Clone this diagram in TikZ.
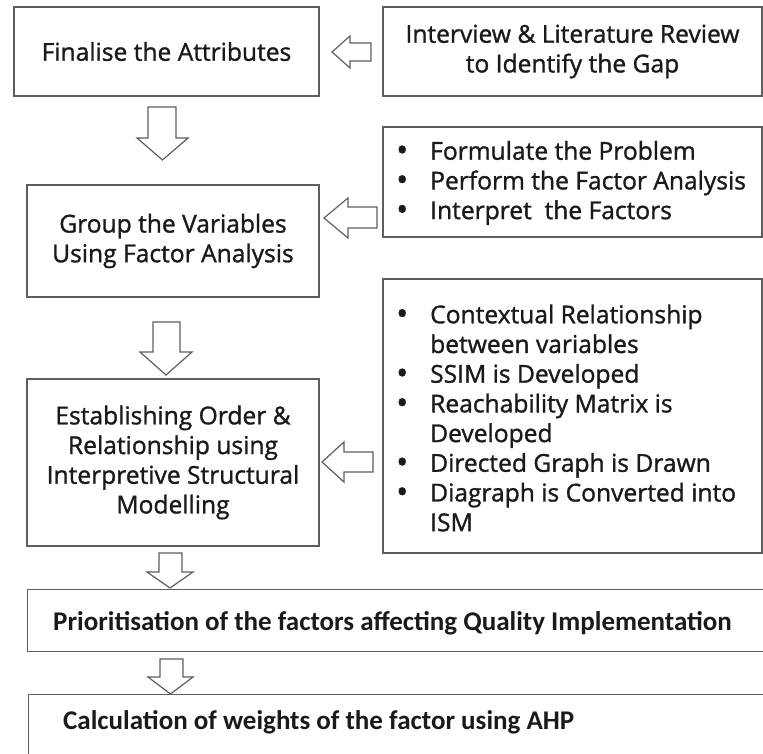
\documentclass[tikz,border=0pt]{standalone}
\usepackage{fontspec}
\setmainfont{Open Sans}[RawFeature={embolden=1.2}]
\newfontfamily\calibfont{Carlito}
\definecolor{edge}{HTML}{5E5E5E}
\definecolor{ink}{HTML}{1A1A1A}
\begin{document}
\begin{tikzpicture}[x=1pt,y=-1pt,
  box/.style={draw=edge,line width=1.4pt,rectangle,inner sep=0pt,text=ink,align=center,
    font=\fontsize{24.6}{29.7}\selectfont},
  listtxt/.style={text=ink,align=left,inner sep=0pt,font=\fontsize{24.6}{29.7}\selectfont},
  boldtxt/.style={text=ink,inner sep=0pt,font=\calibfont\bfseries\fontsize{27}{30}\selectfont},
  blk/.style={draw=edge,line width=1.2pt,fill=white,line join=miter}]
\useasboundingbox (0,0) rectangle (763,754);
\clip (0,0) rectangle (763,754);
\fill[white] (0,0) rectangle (763,754);
\newcommand\bul{\makebox[33pt][l]{\hspace*{-1pt}\raisebox{-1.5pt}{\smash{\fontsize{32}{0}\selectfont•}}}}
\newcommand\ind{\hspace*{33pt}}

% boxes
\node[box,minimum width=305pt,minimum height=89pt] (b1) at (166.5,51.5) {Finalise the Attributes};
\node[box,minimum width=379pt,minimum height=89pt] (b2) at (572.5,51.5) {Interview \& Literature Review\\to Identify the Gap};
\node[box,minimum width=292pt,minimum height=112pt] (b3) at (173,241) {Group the Variables\\Using Factor Analysis};
\node[box,minimum width=379pt,minimum height=110pt] (b4) at (572.5,182) {};
\node[listtxt,anchor=west] (t4) at (397,183) {\bul Formulate the Problem\\\bul Perform the Factor Analysis\\\bul Interpret\ \ the Factors};
\node[box,minimum width=292pt,minimum height=167pt] (b5) at (173,462.5) {Establishing Order \&\\Relationship using\\Interpretive Structural\\Modelling};
\node[box,minimum width=379pt,minimum height=274pt] (b6) at (572.5,416) {};
\node[listtxt,anchor=west] (t6) at (397,418) {\bul Contextual Relationship\\\ind between variables\\\bul SSIM is Developed\\\bul Reachability Matrix is\\\ind Developed\\\bul Directed Graph is Drawn\\\bul Diagraph is Converted into\\\ind ISM};
\node[box,minimum width=773pt,minimum height=62pt,anchor=north west] (b7) at (27,589) {};
\node[boldtxt,anchor=west] (t7) at (53,623) {Prioritisation of the factors affecting Quality Implementation};
\node[box,minimum width=772pt,minimum height=106pt,anchor=north west] (b8) at (28,694) {};
\node[boldtxt,anchor=west] (t8) at (63,722) {Calculation of weights of the factor using AHP};

% block arrows: left-pointing
\draw[blk] (371,43) -- (350,43) -- (350,36) -- (332,52) -- (350,68) -- (350,61) -- (371,61) -- cycle;
\draw[blk] (377,207) -- (348,207) -- (348,198) -- (324,218) -- (348,238) -- (348,228) -- (377,228) -- cycle;
\draw[blk] (373,452) -- (344,452) -- (344,442) -- (322,462) -- (344,482) -- (344,472) -- (373,472) -- cycle;
% block arrows: down-pointing
\draw[blk] (148,107) -- (176,107) -- (176,138) -- (188,138) -- (162.5,160) -- (137,138) -- (148,138) -- cycle;
\draw[blk] (153,322) -- (180,322) -- (180,352) -- (192,352) -- (166,375) -- (140,352) -- (153,352) -- cycle;
\draw[blk] (159,553) -- (182,553) -- (182,572) -- (193,572) -- (170,588) -- (147,572) -- (159,572) -- cycle;
\draw[blk] (160,659) -- (183,659) -- (183,677) -- (193,677) -- (170.5,694) -- (148,677) -- (160,677) -- cycle;
\end{tikzpicture}
\end{document}
